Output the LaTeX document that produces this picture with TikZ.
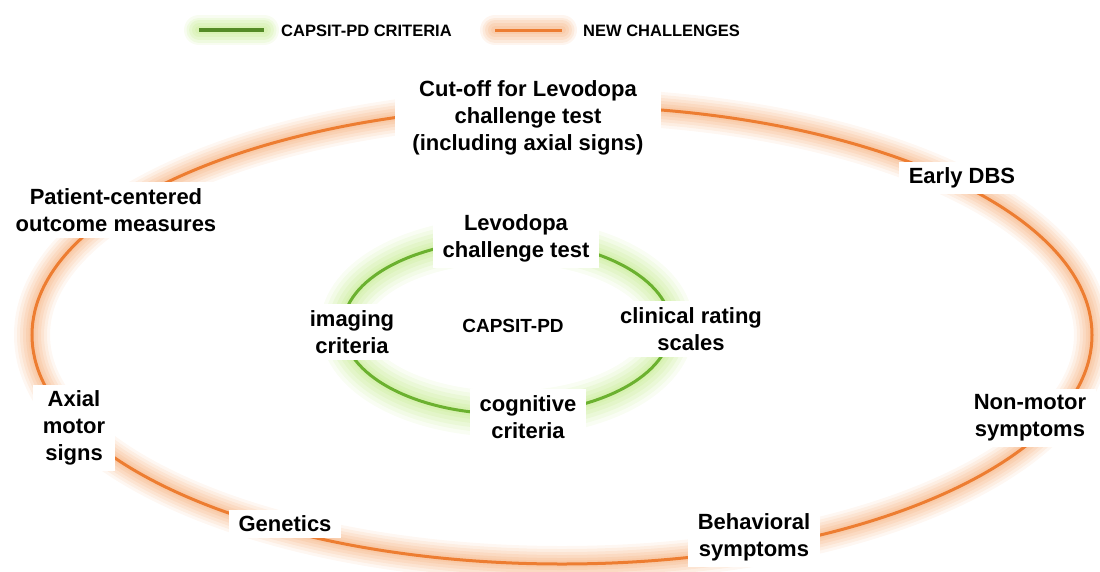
\documentclass[tikz,border=0pt]{standalone}
\usepackage{fontspec}
\setmainfont{Liberation Sans}
\usetikzlibrary{positioning}
\definecolor{challenge}{HTML}{ED7D31}
\definecolor{challengeglow}{HTML}{F7BD92}
\definecolor{capsit}{HTML}{6BB12F}
\definecolor{capsitdark}{HTML}{548B26}
\definecolor{capsitglow}{HTML}{CDEE9E}

\begin{document}
\begin{tikzpicture}[x=1pt, y=-1pt,
	labelbox/.style={rectangle, fill=white, align=center, inner xsep=10pt, inner ysep=6pt,
		font=\fontsize{22}{27}\selectfont\bfseries},
	keytext/.style={anchor=west, inner sep=0pt, font=\fontsize{16.5}{19}\selectfont\bfseries}]
		
		\useasboundingbox (0,0) rectangle (1100,571);
		
		%Legend
		\coordinate (greenA) at (199,30);
		\coordinate (greenB) at (264,30);
		\coordinate (orangeA) at (495,30);
		\coordinate (orangeB) at (562,30);
		\foreach \w/\o in {30/0.15, 25/0.2, 20/0.25, 14/0.3, 8/0.35}{
			\draw[capsitglow, line width=\w pt, line cap=round, draw opacity=\o] (greenA) -- (greenB);
			\draw[challengeglow, line width=\w pt, line cap=round, draw opacity=\o] (orangeA) -- (orangeB);
		}
		\draw[capsitdark, line width=3.5pt] (greenA) -- (greenB);
		\draw[challenge, line width=3pt] (orangeA) -- (orangeB);
		\node (keyCapsit) at (281,31) [keytext]{CAPSIT-PD CRITERIA};
		\node (keyNew) at (583,31) [keytext]{NEW CHALLENGES};
		
		%Rings
		\coordinate (outer) at (562,335);
		\coordinate (inner) at (507,327);
		\foreach \w/\o in {36/0.12, 30/0.16, 24/0.2, 18/0.25, 12/0.3, 7/0.35}{
			\draw[challengeglow, line width=\w pt, draw opacity=\o] (outer) ellipse [x radius=530, y radius=229];
		}
		\foreach \w/\o in {46/0.12, 38/0.16, 30/0.2, 22/0.25, 14/0.3, 8/0.35}{
			\draw[capsitglow, line width=\w pt, draw opacity=\o] (inner) ellipse [x radius=164, y radius=87];
		}
		\draw[challenge, line width=3pt] (outer) ellipse [x radius=530, y radius=229];
		\draw[capsit, line width=3pt] (inner) ellipse [x radius=164, y radius=87];
		
		%Nodes outer ring
		\node (cutoff) at (528,118) [labelbox, minimum width=266pt]{Cut-off for Levodopa\\ challenge test\\ 
		(including axial signs)};
		\node (earlyDBS) at (962,178) [labelbox]{Early DBS};
		\node (patient) at (116,210) [labelbox]{Patient-centered\\ outcome measures};
		\node (axial) at (74,428) [labelbox]{Axial\\ motor\\ signs};
		\node (genetics) at (285,524) [labelbox]{Genetics};
		\node (behavioral) at (754,537) [labelbox]{Behavioral\\ symptoms};
		\node (nonmotor) at (1030,418) [labelbox]{Non-motor\\ symptoms};
		
		%Nodes inner ring
		\node (levodopa) at (516,238) [labelbox]{Levodopa\\ challenge test};
		\node (imaging) at (352,332) [labelbox]{imaging\\ criteria};
		\node (capsitPD) at (513,326) [labelbox, font=\fontsize{19}{23}\selectfont\bfseries]{CAPSIT-PD};
		\node (clinical) at (691,329) [labelbox]{clinical rating\\ scales};
		\node (cognitive) at (528,417) [labelbox]{cognitive\\ criteria};
		
\end{tikzpicture}
\end{document}
